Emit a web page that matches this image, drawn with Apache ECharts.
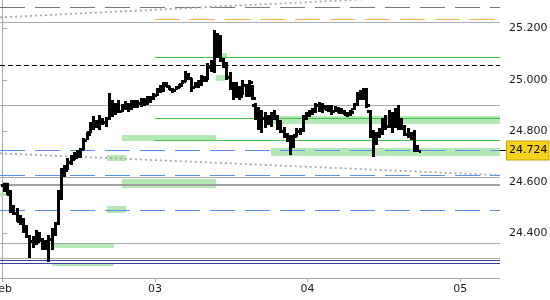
<!DOCTYPE html>
<html><head><meta charset="utf-8">
<script src="https://cdn.jsdelivr.net/npm/echarts@6/dist/echarts.min.js"></script>
<style>html,body{margin:0;padding:0;background:#fff}#c{width:550px;height:300px}</style>
</head><body><div id="c"></div>
<script>
// ---- data (30-minute OHLC bars, hours since Feb 2 00:00) ----
const barStartHour = 0.25, barStepHour = 0.5;
const opens = [
24.590,24.570,24.555,24.490,24.480,24.450,24.440,24.410,24.390,24.370,
24.385,24.370,24.375,24.345,24.370,24.380,24.420,24.440,24.560,24.640,
24.650,24.680,24.690,24.700,24.710,24.730,24.765,24.795,24.820,24.830,
24.820,24.845,24.835,24.850,24.890,24.880,24.890,24.880,24.895,24.890,
24.900,24.905,24.900,24.910,24.915,24.910,24.925,24.930,24.940,24.955,
24.965,24.985,24.975,24.965,24.960,24.970,24.985,24.995,25.010,25.005,
24.970,24.985,24.990,25.010,25.000,25.050,25.040,25.100,25.150,25.080,
25.060,25.010,24.970,24.940,24.960,24.945,24.980,24.950,24.975,24.900,
24.850,24.820,24.850,24.830,24.850,24.860,24.850,24.820,24.800,24.780,
24.765,24.750,24.785,24.800,24.805,24.850,24.865,24.875,24.885,24.900,
24.895,24.890,24.885,24.890,24.880,24.890,24.875,24.878,24.868,24.865,
24.885,24.905,24.940,24.930,24.950,24.880,24.790,24.760,24.790,24.800,
24.840,24.820,24.860,24.830,24.870,24.830,24.820,24.790,24.790,24.780,
24.740];
const highs = [
24.597,24.597,24.570,24.511,24.500,24.472,24.461,24.433,24.394,24.391,
24.414,24.406,24.383,24.375,24.394,24.422,24.445,24.570,24.656,24.667,
24.695,24.706,24.718,24.726,24.734,24.773,24.796,24.835,24.859,24.843,
24.862,24.851,24.855,24.948,24.921,24.909,24.921,24.905,24.917,24.909,
24.921,24.921,24.921,24.929,24.929,24.937,24.937,24.948,24.968,24.979,
24.991,24.991,24.976,24.968,24.976,24.983,24.999,25.034,25.026,25.007,
24.991,24.999,25.018,25.015,25.065,25.077,25.194,25.182,25.174,25.085,
25.069,25.030,24.991,24.991,24.976,24.999,24.983,24.999,24.979,24.909,
24.894,24.882,24.874,24.862,24.874,24.882,24.862,24.843,24.816,24.792,
24.784,24.784,24.812,24.812,24.862,24.874,24.882,24.890,24.909,24.913,
24.909,24.901,24.901,24.901,24.898,24.894,24.890,24.882,24.874,24.882,
24.909,24.952,24.960,24.968,24.968,24.882,24.804,24.796,24.812,24.851,
24.862,24.882,24.874,24.890,24.901,24.851,24.823,24.812,24.796,24.804,
24.745];
const lows = [
24.562,24.550,24.480,24.472,24.445,24.433,24.402,24.383,24.305,24.344,
24.355,24.367,24.336,24.336,24.289,24.336,24.391,24.433,24.531,24.621,
24.648,24.667,24.687,24.695,24.695,24.726,24.765,24.792,24.804,24.812,
24.804,24.823,24.816,24.843,24.855,24.862,24.870,24.874,24.882,24.874,
24.882,24.890,24.890,24.894,24.898,24.901,24.909,24.921,24.937,24.948,
24.952,24.972,24.960,24.948,24.960,24.968,24.983,24.991,24.999,24.952,
24.968,24.968,24.976,24.991,24.999,25.030,25.026,25.085,25.069,25.046,
24.999,24.960,24.921,24.929,24.921,24.940,24.933,24.933,24.921,24.843,
24.804,24.792,24.812,24.823,24.816,24.843,24.804,24.792,24.773,24.757,
24.706,24.734,24.777,24.784,24.796,24.843,24.855,24.862,24.870,24.874,
24.870,24.882,24.874,24.862,24.874,24.870,24.866,24.862,24.855,24.859,
24.882,24.898,24.921,24.921,24.890,24.773,24.699,24.745,24.773,24.784,
24.804,24.812,24.792,24.812,24.804,24.804,24.781,24.773,24.765,24.718,
24.718];
const closes = [
24.570,24.555,24.490,24.480,24.450,24.440,24.410,24.390,24.370,24.385,
24.370,24.375,24.345,24.370,24.380,24.420,24.440,24.560,24.640,24.650,
24.680,24.690,24.700,24.710,24.730,24.765,24.790,24.820,24.830,24.820,
24.845,24.835,24.850,24.890,24.880,24.890,24.880,24.895,24.890,24.900,
24.905,24.900,24.910,24.915,24.910,24.925,24.930,24.940,24.955,24.965,
24.985,24.975,24.965,24.960,24.970,24.980,24.995,25.010,25.005,24.970,
24.985,24.990,25.010,25.000,25.050,25.040,25.100,25.150,25.080,25.060,
25.010,24.970,24.940,24.960,24.935,24.980,24.950,24.990,24.930,24.850,
24.820,24.850,24.830,24.850,24.860,24.850,24.820,24.800,24.780,24.765,
24.750,24.780,24.800,24.805,24.850,24.865,24.875,24.885,24.900,24.895,
24.890,24.885,24.890,24.880,24.890,24.875,24.880,24.870,24.865,24.875,
24.905,24.940,24.930,24.950,24.900,24.790,24.760,24.790,24.800,24.840,
24.820,24.860,24.830,24.870,24.830,24.820,24.790,24.790,24.780,24.740,
24.724];

const dayTicks = [0, 24, 48, 72];
const dayLabels = ['Feb', '03', '04', '05'];
const priceTicks = [24.4, 24.6, 24.8, 25.0, 25.2];
const lastPrice = 24.724;

// horizontal levels
const graySolidLevels = [25.2233, 24.8996, 24.6189, 24.3615, 24.3032];
const grayThickLevels = [24.5897];
const navyLevels = [24.2952, 24.2836];
const blueDashedLevels = [24.7241, 24.6267, 24.4902];
const greenLevels = [25.0868, 24.8490, 24.7632];     // from day 03 on
const orangeDashedLevels = [25.2350];                 // from day 03 on
const grayDashedLevels = [25.2818];
const blackDashedLevels = [25.0556];
const trendUp = [25.243, 25.340];    // dotted, left end -> right end
const trendDown = [24.713, 24.628];  // dotted, left end -> right end
// green zones: [startHour, endHour, low, high]
const greenZones = [
  [42.3, 80, 24.827, 24.859],
  [18.83, 33.61, 24.761, 24.784],
  [42.3, 80, 24.702, 24.734],
  [16.47, 19.45, 24.683, 24.706],
  [18.83, 33.61, 24.578, 24.613],
  [-1, 1.53, 24.550, 24.560],
  [16.47, 19.45, 24.482, 24.508],
  [7.82, 17.57, 24.345, 24.360],
  [7.82, 17.57, 24.274, 24.285],
  [33.61, 35.34, 25.085, 25.104],
  [33.61, 35.03, 24.995, 25.019]
];

// ---- chart ----
const X_MIN = -0.362, X_MAX = 78.27, Y_MIN = 24.227, Y_MAX = 25.311;
const FONT = 'DejaVu Sans';
const series = [];

function hLine(level, from, to, color, width, type, z) {
  series.push({type: 'line', data: [[from, level], [to, level]], symbol: 'none', silent: true,
    z: z || 2, lineStyle: {color, width, type}});
}
graySolidLevels.forEach(v => hLine(v, X_MIN, X_MAX, '#a9a9a9', 1, 'solid'));
grayThickLevels.forEach(v => hLine(v, X_MIN, X_MAX, '#a0a0a0', 2, 'solid'));
navyLevels.forEach(v => hLine(v, X_MIN, X_MAX, '#3b3ba6', 1, 'solid'));
blueDashedLevels.forEach(v => hLine(v, X_MIN, X_MAX, '#5b8ef0', 1, [25, 10], 3));
greenLevels.forEach(v => hLine(v, 24, X_MAX, '#3fc03f', 1, 'solid'));
orangeDashedLevels.forEach(v => hLine(v, 24, X_MAX, '#f3b44a', 1, [25, 10]));
grayDashedLevels.forEach(v => hLine(v, X_MIN, X_MAX, '#777777', 1, [25, 10]));
blackDashedLevels.forEach(v => hLine(v, X_MIN, X_MAX, '#000000', 1, [5, 3]));

series.push({type: 'line', data: [[X_MIN, trendUp[0]], [X_MAX, trendUp[1]]], symbol: 'none', silent: true, z: 2,
  lineStyle: {color: '#a8a8a8', width: 1.8, type: [2, 3]}});
series.push({type: 'line', data: [[X_MIN, trendDown[0]], [X_MAX, trendDown[1]]], symbol: 'none', silent: true, z: 2,
  lineStyle: {color: '#a8a8a8', width: 1.8, type: [2, 3]}});

series.push({
  type: 'custom', z: 1, silent: true, clip: true,
  data: greenZones,
  encode: {x: [0, 1], y: [2, 3]},
  renderItem(params, api) {
    const p1 = api.coord([api.value(0), api.value(3)]);
    const p2 = api.coord([api.value(1), api.value(2)]);
    return {type: 'rect', shape: {x: Math.round(p1[0]), y: Math.round(p1[1]), width: Math.round(p2[0] - p1[0]), height: Math.round(p2[1] - p1[1])},
      style: {fill: '#b4e8b4'}};
  }
});

const ohlc = opens.map((o, i) => [barStartHour + barStepHour * i, o, highs[i], lows[i], closes[i]]);
series.push({
  type: 'custom', z: 5, silent: true, clip: true,
  data: ohlc,
  encode: {x: 0, y: [1, 2, 3, 4]},
  renderItem(params, api) {
    const x = api.value(0);
    const pO = api.coord([x, api.value(1)]);
    const pH = api.coord([x, api.value(2)]);
    const pL = api.coord([x, api.value(3)]);
    const pC = api.coord([x, api.value(4)]);
    const cx = Math.round(pH[0]);
    const st = {fill: '#000'};
    return {type: 'group', children: [
      {type: 'rect', shape: {x: cx - 1, y: Math.round(pH[1]), width: 3, height: Math.max(2, Math.round(pL[1] - pH[1]))}, style: st},
      {type: 'rect', shape: {x: cx - 3, y: Math.round(pO[1]) - 1, width: 2, height: 3}, style: st},
      {type: 'rect', shape: {x: cx + 2, y: Math.round(pC[1]) - 1, width: 2, height: 3}, style: st}
    ]};
  }
});

const chart = echarts.init(document.getElementById('c'), null, {renderer: 'canvas'});
chart.setOption({
  animation: false,
  backgroundColor: '#fff',
  grid: {left: 0, right: 50, top: 0, bottom: 22, containLabel: false, outerBoundsMode: 'none'},
  xAxis: {
    type: 'value', min: X_MIN, max: X_MAX,
    splitLine: {show: false},
    axisLine: {lineStyle: {color: '#a8a8a8'}},
    axisTick: {customValues: dayTicks, length: 4, lineStyle: {color: '#a8a8a8'}},
    axisLabel: {customValues: dayTicks, margin: 6, color: '#1a1a1a', fontFamily: FONT, fontSize: 11,
      formatter: v => dayLabels[dayTicks.indexOf(v)]}
  },
  yAxis: [{
    type: 'value', position: 'right', min: Y_MIN, max: Y_MAX,
    splitLine: {show: false},
    axisLine: {show: true, lineStyle: {color: '#a8a8a8'}},
    axisTick: {show: true, customValues: priceTicks, length: 5, lineStyle: {color: '#a8a8a8'}},
    axisLabel: {customValues: priceTicks, margin: 9, color: '#1a1a1a', fontFamily: FONT, fontSize: 11,
      formatter: v => v.toFixed(3)}
  }, {
    type: 'value', position: 'right', min: Y_MIN, max: Y_MAX,
    splitLine: {show: false},
    axisLine: {show: false},
    axisTick: {show: true, customValues: [lastPrice], length: 6, lineStyle: {color: '#000'}},
    axisLabel: {customValues: [lastPrice], margin: 7, color: '#000', fontFamily: FONT, fontSize: 11,
      backgroundColor: '#f7d31b', borderColor: '#c9a300', borderWidth: 1, padding: [4, 1, 3, 2],
      formatter: v => v.toFixed(3)}
  }],
  series
});
</script></body></html>
